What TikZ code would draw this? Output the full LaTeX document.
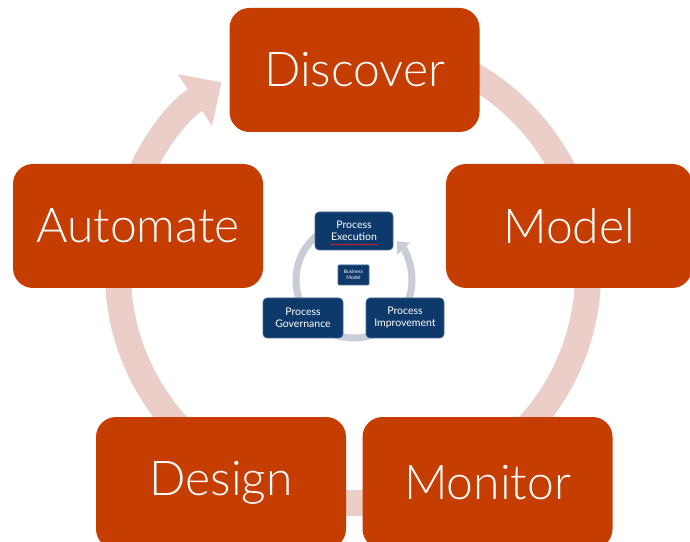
\documentclass[tikz,border=0pt]{standalone}
\usepackage{fontspec}
\setmainfont{Lato}
\newfontfamily\lightfont{Lato Light}
\usetikzlibrary{arrows.meta,calc}
\definecolor{boxred}{RGB}{198,61,1}
\definecolor{ringpink}{RGB}{236,206,201}
\definecolor{navy}{RGB}{14,58,107}
\definecolor{navyedge}{RGB}{70,105,150}
\definecolor{ringgray}{RGB}{200,205,214}
\definecolor{spellred}{RGB}{210,30,40}
\tikzset{
  bigbox/.style={fill=boxred, draw=none, rounded corners=20pt, text=white,
    minimum width=250pt, minimum height=124pt, inner sep=0pt,
    font=\lightfont\fontsize{48}{52}\selectfont},
  smallbox/.style={fill=navy, draw=navyedge, line width=0.6pt, rounded corners=4pt, text=white,
    inner sep=0pt, align=center, font=\fontsize{10.5}{12}\selectfont},
  bigring/.style={draw=ringpink, line width=26pt},
  smallring/.style={draw=ringgray, line width=7pt}
}
\begin{document}
\begin{tikzpicture}[x=1pt,y=1pt]
\useasboundingbox (0,0) rectangle (690,541);
\fill[white] (0,0) rectangle (690,541);
% big ring
\coordinate (C) at (353,268);
\draw[bigring, -{Triangle[width=60pt,length=32pt]}]
  ($(C)+(80:235 and 230)$) arc[start angle=80, end angle=-236, x radius=235, y radius=230];
% big boxes
\node[bigbox] (discover) at (354.5,471) {Discover};
\node[bigbox] (automate) at (138,315) {Automate};
\node[bigbox, minimum width=246pt] (model) at (569,315) {Model};
\node[bigbox, minimum height=132pt] (design) at (221,58) {Design};
\node[bigbox, minimum height=132pt] (monitor) at (487.5,58) {Monitor};
% small ring
\coordinate (c) at (354,261);
\draw[smallring, -{Triangle[width=17pt,length=10pt]}]
  ($(c)+(95:58)$) arc[start angle=95, end angle=402, radius=58];
% small boxes
\node[smallbox, minimum width=78pt, minimum height=38pt] (exec) at (354,310) {Process\\Execution};
\node[smallbox, minimum width=31pt, minimum height=20pt, rounded corners=1pt,
  font=\fontsize{5}{6}\selectfont] (bm) at (353.5,266) {Business\\Model};
\node[smallbox, minimum width=80pt, minimum height=40pt] (gov) at (303,223) {Process\\Governance};
\node[smallbox, minimum width=78pt, minimum height=40pt] (imp) at (405,223) {Process\\Improvement};
\coordinate (ul1) at ($(exec.south)+(-24,6)$);
\coordinate (ul2) at ($(exec.south)+(24,6)$);
\draw[spellred, line width=1pt] (ul1) -- (ul2);
\end{tikzpicture}
\end{document}
